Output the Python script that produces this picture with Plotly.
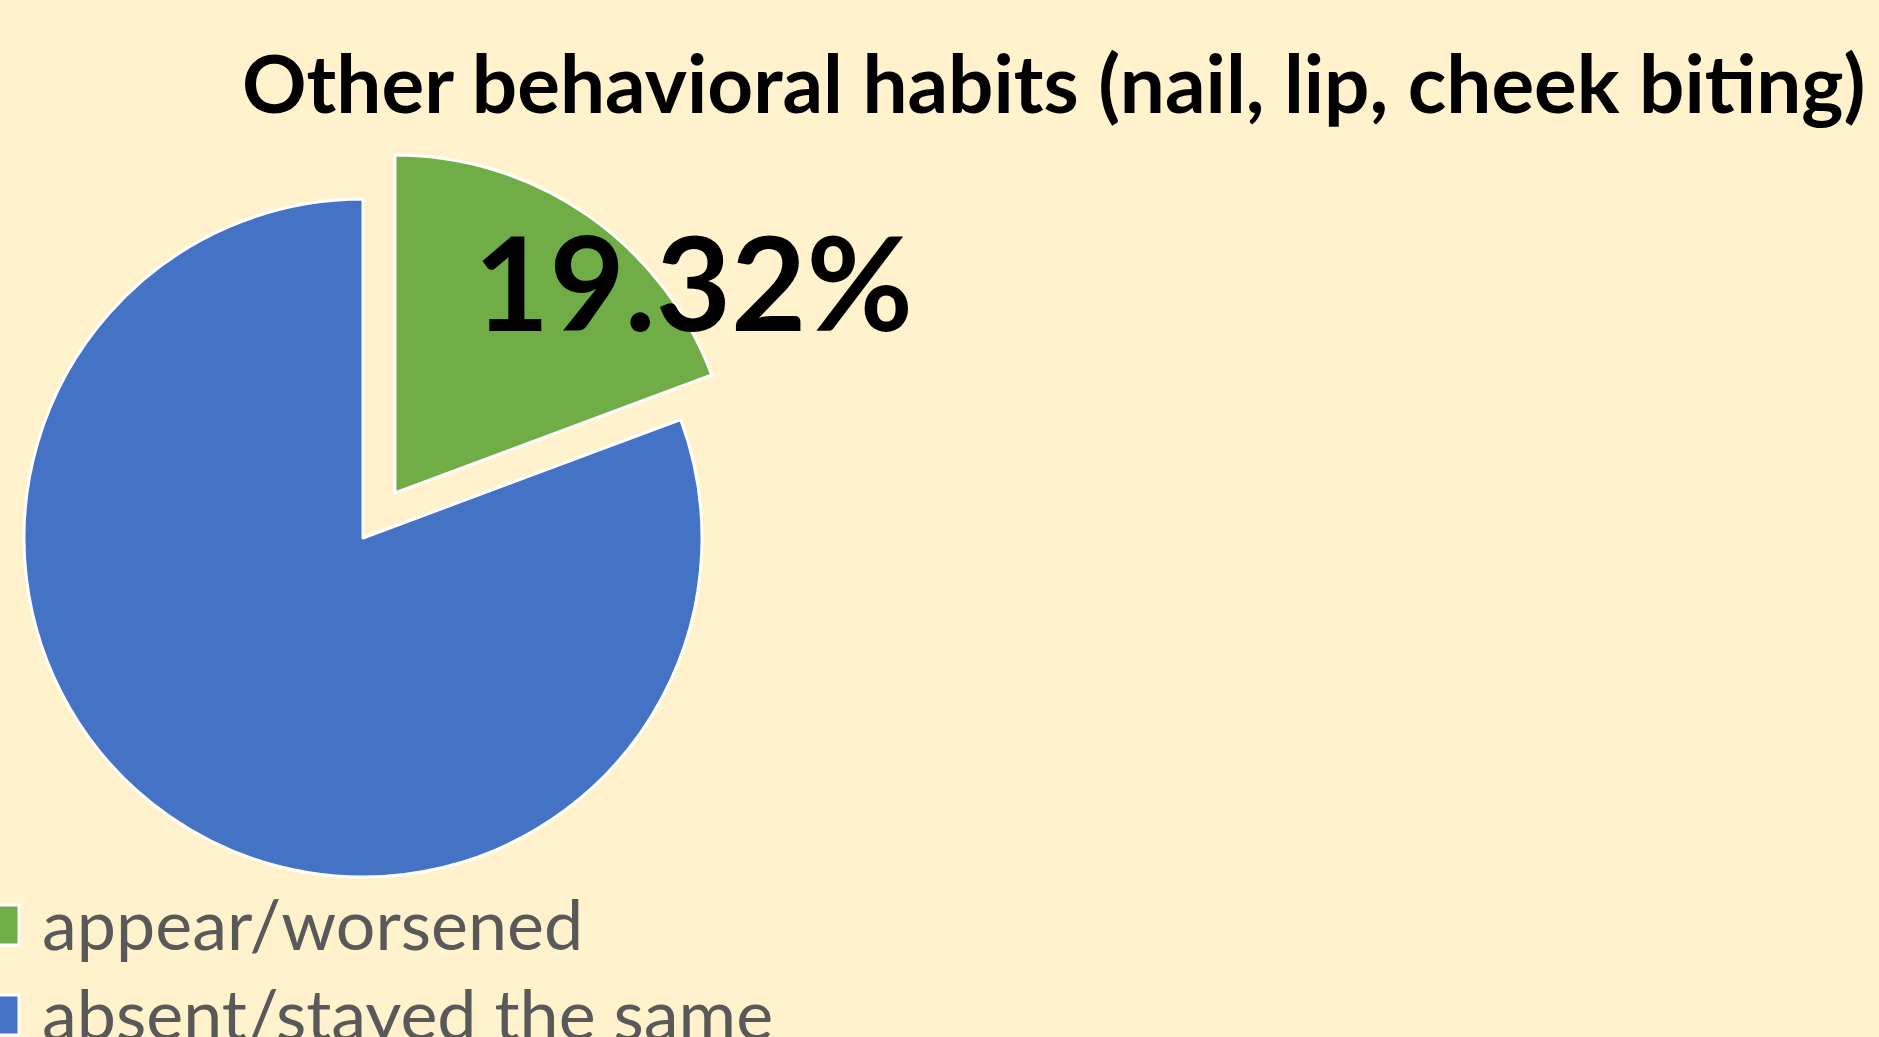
import plotly.graph_objects as go

# Share of respondents whose other behavioral habits appeared or worsened
categories = ["appear/worsened", "absent/stayed the same"]
values = [19.32, 80.68]
colors = ["#70AD47", "#4472C4"]
title_text = "Other behavioral habits (nail, lip, cheek biting)"

W, H = 1879, 1037
BG = "#FFF2CC"
TRANSPARENT = "rgba(0,0,0,0)"


def domain_from(cx, cy, r):
    """Square pie domain (paper coords) around a pixel centre with radius r."""
    return dict(
        x=[(cx - r) / W, (cx + r) / W],
        y=[1 - (cy + r) / H, 1 - (cy - r) / H],
    )


def pie_layer(visible_idx, cx, cy, r):
    cols = [c if i == visible_idx else TRANSPARENT for i, c in enumerate(colors)]
    widths = [3 if i == visible_idx else 0 for i in range(len(colors))]
    return go.Pie(
        labels=categories,
        values=values,
        sort=False,
        direction="clockwise",
        rotation=0,
        textinfo="none",
        hoverinfo="label+percent",
        marker=dict(colors=cols, line=dict(color="white", width=widths)),
        domain=domain_from(cx, cy, r),
        showlegend=False,
    )


fig = go.Figure()
# main body of the pie
fig.add_trace(pie_layer(1, 363, 538, 339))
# exploded slice, pulled out along its bisector
fig.add_trace(pie_layer(0, 395, 493, 338))

annotations = [
    dict(
        text=f"<b>{title_text}</b>",
        x=1868 / W, xref="paper", xanchor="right",
        y=1 - 82 / H, yref="paper", yanchor="middle",
        showarrow=False,
        font=dict(family="Lato", size=80, color="#000000"),
    ),
    dict(
        text=f"<b>{values[0]:.2f}%</b>",
        x=693 / W, xref="paper", xanchor="center",
        y=1 - 281 / H, yref="paper", yanchor="middle",
        showarrow=False,
        font=dict(family="Lato", size=130, color="#000000"),
    ),
]

shapes = []
legend_rows = [925, 1015]
for cat, col, yc in zip(categories, colors, legend_rows):
    shapes.append(dict(
        type="rect", xref="paper", yref="paper",
        x0=-4 / W, x1=19 / W,
        y0=1 - (yc + 20) / H, y1=1 - (yc - 20) / H,
        fillcolor=col, line=dict(color="white", width=3),
    ))
    annotations.append(dict(
        text=cat,
        x=40 / W, xref="paper", xanchor="left",
        y=1 - (yc - 2) / H, yref="paper", yanchor="middle",
        showarrow=False,
        font=dict(family="Lato", size=70, color="#595959"),
    ))

fig.update_layout(
    width=W, height=H,
    margin=dict(l=0, r=0, t=0, b=0),
    paper_bgcolor=BG,
    plot_bgcolor=BG,
    annotations=annotations,
    shapes=shapes,
    showlegend=False,
)

fig.write_html("out.html")
